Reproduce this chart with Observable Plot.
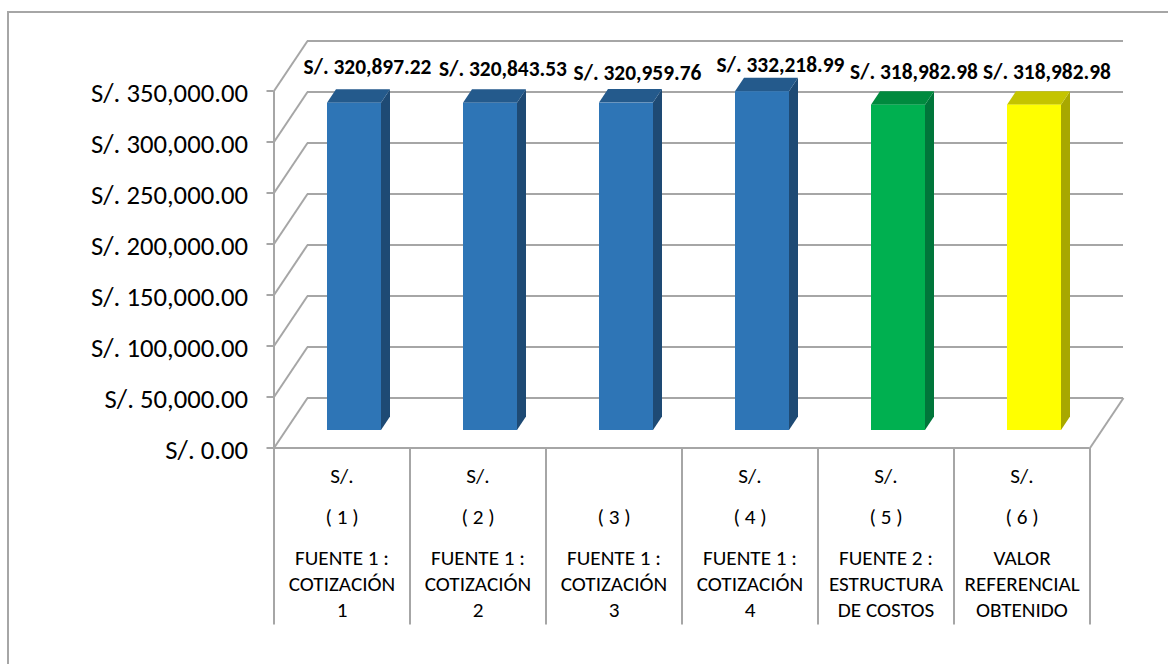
<!DOCTYPE html>
<html>
<head>
<meta charset="utf-8">
<script src="https://cdn.jsdelivr.net/npm/d3@7"></script>
<script src="https://cdn.jsdelivr.net/npm/@observablehq/plot@0.6"></script>
<style>
html,body{margin:0;padding:0;background:#fff;overflow:hidden}
#chart{position:absolute;left:0;top:0;width:1168px;height:664px}
#edge{position:absolute;left:7px;top:11px;right:0;bottom:0;border-left:2px solid #a6a6a6;border-top:2px solid #a6a6a6}
svg{position:absolute;left:0;top:0}
</style>
</head>
<body>
<div id="edge"></div>
<div id="chart"></div>
<script>
// Data
const fuentes = ["( 1 )", "( 2 )", "( 3 )", "( 4 )", "( 5 )", "( 6 )"];
const monedas = ["S/.", "S/.", "", "S/.", "S/.", "S/."];
const linea1 = ["FUENTE 1 :", "FUENTE 1 :", "FUENTE 1 :", "FUENTE 1 :", "FUENTE 2 :", "VALOR"];
const linea2 = ["COTIZACIÓN", "COTIZACIÓN", "COTIZACIÓN", "COTIZACIÓN", "ESTRUCTURA", "REFERENCIAL"];
const linea3 = ["1", "2", "3", "4", "DE COSTOS", "OBTENIDO"];
const valores = [320897.22, 320843.53, 320959.76, 332218.99, 318982.98, 318982.98];
const yTicks = [0, 50000, 100000, 150000, 200000, 250000, 300000, 350000];

// Styles
const frente = ["#2e75b6", "#2e75b6", "#2e75b6", "#2e75b6", "#00b050", "#ffff00"];
const tapa = ["#245a8c", "#245a8c", "#245a8c", "#245a8c", "#008a3e", "#c4c400"];
const lado = ["#1e4a74", "#1e4a74", "#1e4a74", "#1e4a74", "#00763a", "#a8a800"];
const labelOffset = [[13.5, -54], [13, -52], [11.5, -47.5], [18.5, -43.5], [16, -50], [13, -50]];
const grey = "#a6a6a6";
const font = "Carlito, Calibri, Lato, sans-serif";

// Unit conversions for the fake 3D projection
const PX_X = 1 / 136, PX_Y = 350000 / 357;
const wallX = 33.5 * PX_X, wallY = 50 * PX_Y;
const barW = 54 * PX_X, barDX = 12.5, barDY = -17.5;
const depthX = 9 * PX_X, depthY = 13.5 * PX_Y;
const fmt = v => "S/. " + d3.format(",.2f")(v);

const rows = valores.map((v, i) => ({
  i, v, l: i + 0.5 - barW / 2, r: i + 0.5 + barW / 2,
  fuente: fuentes[i], moneda: monedas[i], a: linea1[i], b: linea2[i], c: linea3[i]
}));

const gridStyle = {stroke: grey, strokeWidth: 2};
const catRow = (key, dy) => Plot.text(rows, {
  x: d => d.i + 0.5, y: 0, dy, text: d => d[key],
  fontSize: 21.2, fontFamily: font, fill: "#000", lineAnchor: "middle", textAnchor: "middle"
});

const marks = [
  // Back wall gridlines
  Plot.ruleY(yTicks, {y: d => d + wallY, x1: wallX, x2: 6 + wallX, ...gridStyle}),
  // Left wall diagonals
  Plot.link(yTicks, {x1: 0, y1: d => d, x2: wallX, y2: d => d + wallY, ...gridStyle}),
  // Floor
  Plot.link([0], {x1: 6, y1: 0, x2: 6 + wallX, y2: wallY, ...gridStyle}),
  Plot.ruleY([0], {x1: 0, x2: 6, ...gridStyle}),
  // Table below axis
  Plot.ruleX(d3.range(7), {y1: 0, y2: -177 * PX_Y, ...gridStyle}),
  // Value axis line
  Plot.ruleX([0], {y1: 0, y2: 350000, ...gridStyle}),
  // Tick marks
  Plot.ruleY(yTicks, {x1: -7 * PX_X, x2: 0, ...gridStyle}),
  Plot.axisY({
    ticks: yTicks, tickFormat: fmt, tickSize: 0, tickPadding: 26, label: null, dy: 2,
    fontSize: 26.7, fontFamily: font, fill: "#000"
  })
];

// Bars
rows.forEach(d => {
  const side = [
    {x: d.r, y1: 0, y2: d.v},
    {x: d.r + depthX, y1: depthY, y2: d.v + depthY}
  ];
  const top = [
    {y: d.v, x1: d.l, x2: d.r},
    {y: d.v + depthY, x1: d.l + depthX, x2: d.r + depthX}
  ];
  marks.push(
    Plot.areaY(side, {x: "x", y1: "y1", y2: "y2", fill: lado[d.i], dx: barDX, dy: barDY}),
    Plot.areaX(top, {y: "y", x1: "x1", x2: "x2", fill: tapa[d.i], dx: barDX, dy: barDY}),
    Plot.rect([d], {x1: "l", x2: "r", y1: 0, y2: "v", fill: frente[d.i], dx: barDX, dy: barDY}),
    Plot.text([d], {
      x: d => d.i + 0.5, y: "v", text: d => fmt(d.v),
      dx: 12 + labelOffset[d.i][0], dy: labelOffset[d.i][1],
      fontSize: 21.4, fontWeight: "bold", fontFamily: font, fill: "#000", lineAnchor: "middle"
    })
  );
});

marks.push(
  catRow("moneda", 28),
  catRow("fuente", 69),
  catRow("a", 110.5),
  catRow("b", 136),
  catRow("c", 162)
);

const svg = Plot.plot({
  width: 1168, height: 664,
  marginLeft: 273.5, marginRight: 78.5, marginTop: 90.5, marginBottom: 216.5,
  style: {background: "transparent", overflow: "visible"},
  x: {domain: [0, 6], axis: null},
  y: {domain: [0, 350000], axis: null},
  marks
});
document.getElementById("chart").append(svg);
</script>
</body>
</html>
